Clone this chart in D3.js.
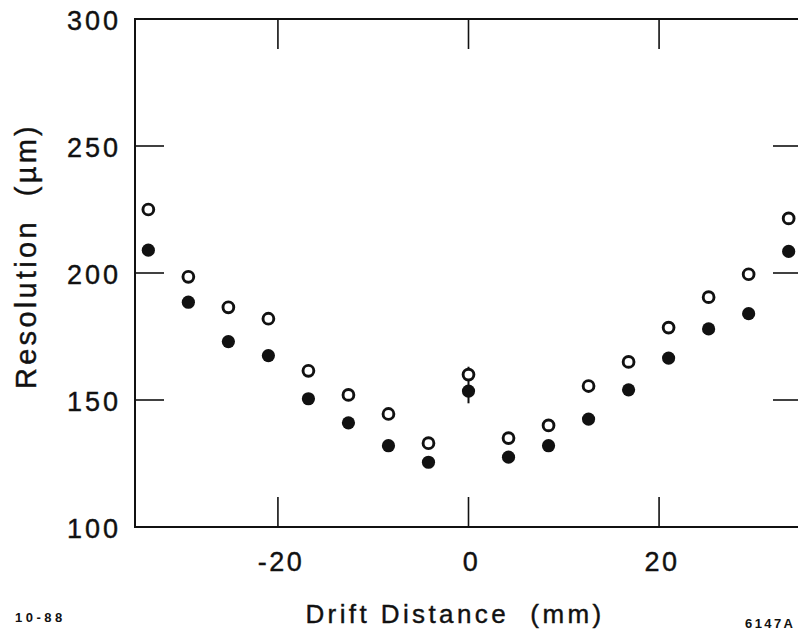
<!DOCTYPE html>
<html>
<head>
<meta charset="utf-8">
<script src="https://cdn.jsdelivr.net/npm/d3@7"></script>
<style>
  body { margin: 0; background: #fff; }
  text { font-family: "Liberation Sans", Arial, sans-serif; fill: #111; }
  .big { stroke: #111; stroke-width: 0.4; }
</style>
</head>
<body>
<script>
// drift distance (mm) of each measurement
let drift = [-33.6, -29.4, -25.2, -21.0, -16.8, -12.6, -8.4, -4.2, 0, 4.2, 8.4, 12.6, 16.8, 21.0, 25.2, 29.4, 33.6];
// open circles
let resOpen = [225, 198.5, 186.5, 182, 161.5, 152, 144.5, 133, 160, 135, 140, 155.5, 165, 178.5, 190.5, 199.5, 221.5];
// filled circles
let resFilled = [209, 188.5, 173, 167.5, 150.5, 141, 132, 125.5, 153.5, 127.5, 132, 142.5, 154, 166.5, 178, 184, 208.5];
// error bar on the centre point [x, low, high]
let errBars = [[0, 148.7, 163.1]];

let xTicks = [-20, 0, 20];
let yTicks = [100, 150, 200, 250, 300];
let yInner = [150, 200, 250];

let width = 798;
let height = 634;
let margin = { left: 135, right: -4, top: 19, bottom: 107 };

let x = d3.scaleLinear()
  .domain([-35, 35])
  .range([margin.left, width - margin.right]);

let y = d3.scaleLinear()
  .domain([100, 300])
  .range([height - margin.bottom, margin.top]);

let svg = d3.select("body")
  .append("svg")
  .attr("width", width)
  .attr("height", height);

let ink = "#111";

// frame
svg.append("rect")
  .attr("x", x(-35))
  .attr("y", y(300))
  .attr("width", x(35) - x(-35))
  .attr("height", y(100) - y(300))
  .attr("fill", "none")
  .attr("stroke", ink)
  .attr("stroke-width", 2);

// ticks: bottom / top pointing in
let tickLen = 30;
svg.append("g")
  .selectAll("line")
  .data(xTicks)
  .join("line")
  .attr("x1", d => x(d)).attr("x2", d => x(d))
  .attr("y1", y(100)).attr("y2", y(100) - tickLen)
  .attr("stroke", ink).attr("stroke-width", 1.6);

svg.append("g")
  .selectAll("line")
  .data(xTicks)
  .join("line")
  .attr("x1", d => x(d)).attr("x2", d => x(d))
  .attr("y1", y(300)).attr("y2", y(300) + tickLen)
  .attr("stroke", ink).attr("stroke-width", 1.6);

// left / right ticks
svg.append("g")
  .selectAll("line")
  .data(yInner)
  .join("line")
  .attr("x1", x(-35)).attr("x2", x(-35) + 29)
  .attr("y1", d => y(d)).attr("y2", d => y(d))
  .attr("stroke", ink).attr("stroke-width", 1.6);

svg.append("g")
  .selectAll("line")
  .data(yInner)
  .join("line")
  .attr("x1", x(35)).attr("x2", x(35) - 29)
  .attr("y1", d => y(d)).attr("y2", d => y(d))
  .attr("stroke", ink).attr("stroke-width", 1.6);

// tick labels
svg.append("g")
  .selectAll("text")
  .data(yTicks)
  .join("text")
  .attr("class", "big")
  .attr("x", x(-35) - 14)
  .attr("y", d => y(d) + 11)
  .attr("text-anchor", "end")
  .attr("font-size", 27)
  .attr("letter-spacing", 3)
  .text(d => d);

svg.append("g")
  .selectAll("text")
  .data(xTicks)
  .join("text")
  .attr("class", "big")
  .attr("x", d => x(d) + 3)
  .attr("y", y(100) + 44)
  .attr("text-anchor", "middle")
  .attr("font-size", 27)
  .attr("letter-spacing", 2.5)
  .text(d => d);

// axis titles
svg.append("text")
  .attr("class", "big")
  .attr("x", 455)
  .attr("y", 623)
  .attr("text-anchor", "middle")
  .attr("font-size", 26)
  .attr("letter-spacing", 3.4)
  .attr("xml:space", "preserve")
  .text("Drift Distance  (mm)");

svg.append("text")
  .attr("class", "big")
  .attr("transform", "translate(36,256) rotate(-90)")
  .attr("text-anchor", "middle")
  .attr("font-size", 29)
  .attr("letter-spacing", 3.3)
  .attr("xml:space", "preserve")
  .text("Resolution  (\u00b5m)");

// corner labels
svg.append("text")
  .attr("x", 15).attr("y", 622)
  .attr("font-size", 13).attr("font-weight", "bold")
  .attr("letter-spacing", 3.5)
  .text("10-88");

svg.append("text")
  .attr("x", 745).attr("y", 628)
  .attr("font-size", 13).attr("font-weight", "bold")
  .attr("letter-spacing", 2.4)
  .text("6147A");

// error bars
svg.append("g")
  .selectAll("line")
  .data(errBars)
  .join("line")
  .attr("x1", d => x(d[0])).attr("x2", d => x(d[0]))
  .attr("y1", d => y(d[1])).attr("y2", d => y(d[2]))
  .attr("stroke", ink).attr("stroke-width", 2);

// points
let openPts = drift.map((d, i) => [d, resOpen[i]]);
let filledPts = drift.map((d, i) => [d, resFilled[i]]);

svg.append("g")
  .selectAll("circle")
  .data(openPts)
  .join("circle")
  .attr("cx", d => x(d[0]))
  .attr("cy", d => y(d[1]))
  .attr("r", 5.4)
  .attr("fill", "#fff")
  .attr("stroke", ink)
  .attr("stroke-width", 2.9);

svg.append("g")
  .selectAll("circle")
  .data(filledPts)
  .join("circle")
  .attr("cx", d => x(d[0]))
  .attr("cy", d => y(d[1]))
  .attr("r", 6.6)
  .attr("fill", ink);
</script>
</body>
</html>
